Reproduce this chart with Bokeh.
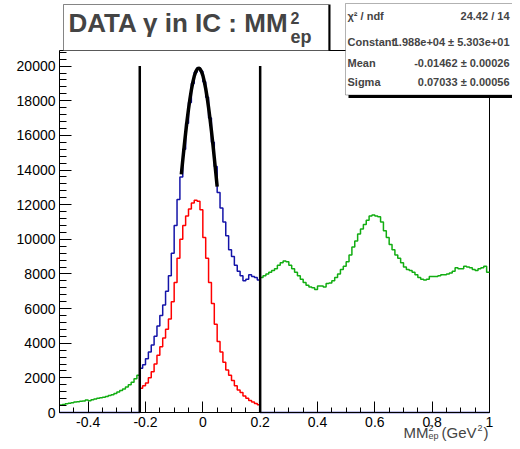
import numpy as np
from bokeh.plotting import figure
from bokeh.models import Label, BoxAnnotation, FixedTicker, Range1d
from bokeh.embed import file_html
from bokeh.resources import INLINE

# ---------------- data ----------------
X_MIN, X_MAX, BIN_W = -0.5, 1.0, 0.01
CUT_LO, CUT_HI = -0.22, 0.20
CUT_LINE_TOP = 20000
Y_MAX = 20900

# green histogram, bins from -0.50 to -0.22
GREEN_LEFT = [430, 460, 500, 530, 560, 600, 620, 650, 670, 720,
              680, 740, 780, 820, 850, 880, 930, 980, 1030, 1100,
              1180, 1270, 1360, 1470, 1600, 1750, 1950, 2150]
# blue histogram (inside the cut), bins from -0.22 to 0.20
BLUE_CUT = [2550, 2750, 3100, 3500, 3900, 4400, 5000, 5600, 6200, 7000,
            7900, 9200, 10800, 12300, 13600, 15200, 16700, 17900, 19000, 19650,
            19900, 19700, 19100, 18200, 17000, 15600, 14200, 12700, 11800, 11000,
            10200, 9400, 9000, 8500, 8150, 7900, 7600, 7700, 7950, 7850,
            7800, 7650]
# red histogram, bins from -0.22 to 0.20
RED_CUT = [1400, 1550, 1700, 2000, 2350, 2800, 3300, 3800, 4300, 4800,
           5400, 6400, 7500, 8900, 10000, 10800, 11350, 11750, 12100, 12250,
           12200, 11700, 10100, 8900, 7500, 6300, 5100, 4100, 3500, 2900,
           2450, 2150, 1850, 1550, 1300, 1150, 950, 820, 700, 600,
           520, 450]
# green histogram, bins from 0.20 to 1.00
GREEN_RIGHT = [7800, 7900, 8000, 8100, 8200, 8300, 8500, 8650, 8750, 8700,
               8500, 8300, 8100, 7900, 7700, 7500, 7350, 7250, 7200, 7100,
               7300, 7300, 7250, 7450, 7480, 7600, 7800, 8000, 8250, 8450,
               8700, 9100, 9550, 9900, 10300, 10600, 10850, 11100, 11350, 11400,
               11350, 11300, 11000, 10500, 10100, 9700, 9400, 9100, 8900, 8650,
               8400, 8250, 8200, 8100, 7950, 7800, 7700, 7650, 7700, 7850,
               7850, 7850, 7900, 7950, 7950, 8000, 8050, 8150, 8350, 8300,
               8300, 8450, 8400, 8350, 8250, 8200, 8300, 8350, 8450, 8100]
# gaussian fit curve (black)
FIT_X = [-0.075, -0.07, -0.065, -0.06, -0.055, -0.05, -0.045, -0.04, -0.035, -0.03,
         -0.025, -0.02, -0.015, -0.01, -0.005, 0.0, 0.005, 0.01, 0.015, 0.02,
         0.025, 0.03, 0.035, 0.04, 0.045, 0.05]
FIT_Y = [13745, 14570, 15375, 16140, 16855, 17510, 18105, 18620, 19060, 19410,
         19663, 19820, 19880, 19840, 19695, 19460, 19122, 18700, 18194, 17610,
         16963, 16260, 15500, 14700, 13877, 13040]

X_TICKS = [-0.4, -0.2, 0.0, 0.2, 0.4, 0.6, 0.8, 1.0]
X_TICK_LABELS = ["-0.4", "-0.2", "0", "0.2", "0.4", "0.6", "0.8", "1"]
X_MINOR = [-0.5, -0.45, -0.4, -0.35, -0.3, -0.25, -0.2, -0.15, -0.1, -0.05, 0.0,
           0.05, 0.1, 0.15, 0.2, 0.25, 0.3, 0.35, 0.4, 0.45, 0.5, 0.55, 0.6,
           0.65, 0.7, 0.75, 0.8, 0.85, 0.9, 0.95, 1.0]
Y_TICKS = [0, 2000, 4000, 6000, 8000, 10000, 12000, 14000, 16000, 18000, 20000]
Y_TICK_LABELS = ["0", "2000", "4000", "6000", "8000", "10000", "12000",
                 "14000", "16000", "18000", "20000"]
Y_MINOR_STEP = 400

TITLE_MAIN = "DATA γ in IC : MM"
TITLE_SUP = "2"
TITLE_SUB = "ep"
STATS_NAMES = ["χ² / ndf", "Constant", "Mean", "Sigma"]
STATS_VALUES = ["24.42 / 14", "1.988e+04 ± 5.303e+01",
                "-0.01462 ± 0.00026", "0.07033 ± 0.00056"]
XTITLE_PARTS = ["MM", "2", "ep", "(GeV", "2", ")"]

FONT = "Liberation Sans"
GREEN = "#12ad12"
BLUE = "#1414a8"
RED = "#ff0000"

# ---------------- layout (pixels on the canvas) ----------------
W, H = 512, 441
F_LEFT, F_RIGHT, F_TOP, F_BOTTOM = 59, 489, 50, 412   # data frame edges
sx = (X_MAX - X_MIN) / (F_RIGHT - F_LEFT)
sy = Y_MAX / (F_BOTTOM - F_TOP)

def cx(px):
    return X_MIN + (px - F_LEFT) * sx

def cy(py):
    return (F_BOTTOM - py) * sy

p = figure(width=W, height=H, output_backend="svg", toolbar_location=None,
           x_range=Range1d(cx(0), cx(W)), y_range=Range1d(cy(H), cy(0)),
           min_border_left=0, min_border_right=0, min_border_top=0,
           min_border_bottom=0)
p.grid.visible = False
p.background_fill_color = "white"
p.border_fill_color = "white"
p.outline_line_color = None

# axes drawn at the data frame's edges
xa, ya = p.xaxis[0], p.yaxis[0]
xa.fixed_location = 0
xa.bounds = (X_MIN, X_MAX)
ya.fixed_location = X_MIN
ya.bounds = (0, Y_MAX)
for ax in (xa, ya):
    ax.axis_line_color = "black"
    ax.axis_line_width = 1
    ax.major_tick_out = 0
    ax.minor_tick_out = 0
    ax.major_label_text_font = FONT
    ax.major_label_text_font_size = "14px"
    ax.major_label_text_color = "black"
    ax.major_tick_line_color = "black"
    ax.minor_tick_line_color = "black"
xa.ticker = FixedTicker(ticks=X_TICKS, minor_ticks=X_MINOR)
xa.major_label_overrides = {t: l for t, l in zip(X_TICKS, X_TICK_LABELS)}
xa.major_tick_in = 11
xa.minor_tick_in = 5
xa.major_label_standoff = 4
ya.ticker = FixedTicker(ticks=Y_TICKS,
                        minor_ticks=list(range(0, Y_MAX, Y_MINOR_STEP)))
ya.major_label_overrides = {t: l for t, l in zip(Y_TICKS, Y_TICK_LABELS)}
ya.major_tick_in = 12
ya.minor_tick_in = 7
ya.major_label_standoff = 4

# top and right frame lines
p.segment(x0=[X_MIN, X_MAX], y0=[Y_MAX, 0], x1=[X_MAX, X_MAX], y1=[Y_MAX, Y_MAX],
          line_color="black", line_width=1)

# ---------------- histograms ----------------
n_left = len(GREEN_LEFT)
n_cut = len(BLUE_CUT)
n_right = len(GREEN_RIGHT)
edges = X_MIN + BIN_W * np.arange(n_left + n_cut + n_right + 1)

def step_xy(e, vals):
    return list(e), list(vals) + [vals[-1]]

gx, gy = step_xy(edges[:n_left + 1], GREEN_LEFT)
p.step(gx, gy, mode="after", line_color=GREEN, line_width=1.5)
gx, gy = step_xy(edges[n_left + n_cut:], GREEN_RIGHT)
p.step(gx, gy, mode="after", line_color=GREEN, line_width=1.5)

rx, ry = step_xy(edges[n_left:n_left + n_cut + 1], RED_CUT)
p.step(rx, ry, mode="after", line_color=RED, line_width=1.5)

blue_full = [0] * n_left + BLUE_CUT + [0] * n_right
bx, by = step_xy(edges, blue_full)
p.step(bx, by, mode="after", line_color=BLUE, line_width=1.5)

p.line(FIT_X, FIT_Y, line_color="black", line_width=3.5)

p.segment(x0=[CUT_LO, CUT_HI], y0=[0, 0], x1=[CUT_LO, CUT_HI],
          y1=[CUT_LINE_TOP, CUT_LINE_TOP], line_color="black", line_width=2.5)

# ---------------- title box ----------------
p.add_layout(BoxAnnotation(left=cx(63), right=cx(330), top=cy(4), bottom=cy(50),
                           fill_color="black", fill_alpha=1.0, line_alpha=0))
p.add_layout(BoxAnnotation(left=cx(63), right=cx(328), top=cy(4), bottom=cy(50),
                           fill_color="white", fill_alpha=1.0,
                           line_color="black", line_width=1))
p.add_layout(Label(x=cx(68), y=cy(22), text=TITLE_MAIN, text_font=FONT,
                   text_font_size="26px", text_font_style="bold",
                   text_baseline="middle", text_align="left"))
p.add_layout(Label(x=cx(290), y=cy(17.5), text=TITLE_SUP, text_font=FONT,
                   text_font_size="16px", text_font_style="bold",
                   text_baseline="middle", text_align="left"))
p.add_layout(Label(x=cx(290), y=cy(36.5), text=TITLE_SUB, text_font=FONT,
                   text_font_size="18px", text_font_style="bold",
                   text_baseline="middle", text_align="left"))

# ---------------- stats box ----------------
p.add_layout(BoxAnnotation(left=cx(348), right=cx(W + 20), top=cy(6), bottom=cy(97.5),
                           fill_color="black", fill_alpha=1.0, line_alpha=0))
p.add_layout(BoxAnnotation(left=cx(345), right=cx(W + 20), top=cy(3), bottom=cy(94.5),
                           fill_color="white", fill_alpha=1.0,
                           line_color="black", line_width=1))
for row_y, name, val in zip([15, 41, 62.5, 81], STATS_NAMES, STATS_VALUES):
    p.add_layout(Label(x=cx(347), y=cy(row_y), text=name, text_font=FONT,
                       text_font_size="11px", text_font_style="bold",
                       text_baseline="middle", text_align="left"))
    p.add_layout(Label(x=cx(509), y=cy(row_y), text=val, text_font=FONT,
                       text_font_size="11px", text_font_style="bold",
                       text_baseline="middle", text_align="right"))

# ---------------- x axis title ----------------
xt_specs = [(403, 432, "15px"), (428, 427.5, "9px"), (428, 435.5, "9px"),
            (441, 432, "15px"), (477, 427, "9px"), (483, 432, "15px")]
for (px_, py_, fs), txt in zip(xt_specs, XTITLE_PARTS):
    p.add_layout(Label(x=cx(px_), y=cy(py_), text=txt, text_font=FONT,
                       text_font_size=fs, text_baseline="middle",
                       text_align="left"))

open("out.html", "w").write(file_html(p, INLINE))
